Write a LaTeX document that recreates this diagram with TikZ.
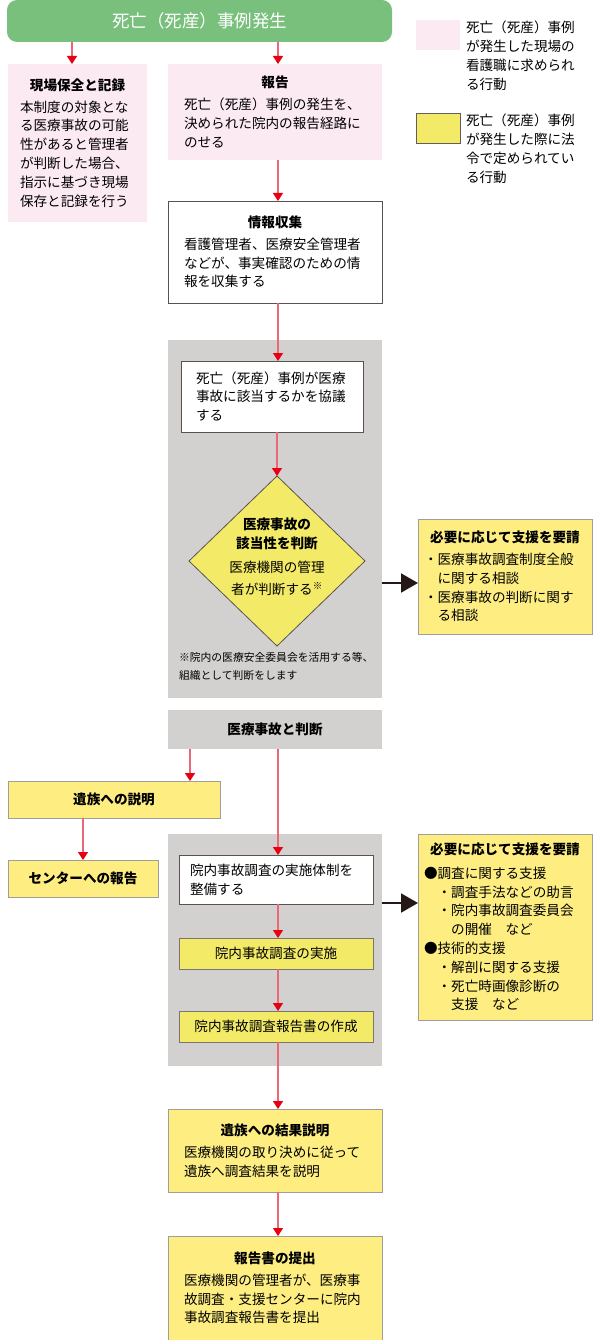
\documentclass[tikz,border=0pt]{standalone}
\usepackage{fontspec}
\setmainfont{Noto Sans CJK JP}
\usetikzlibrary{shapes.geometric,arrows.meta}
\definecolor{kgreen}{RGB}{121,192,125}
\definecolor{kpink}{RGB}{252,234,243}
\definecolor{kyellow}{RGB}{254,238,130}
\definecolor{kyellowd}{RGB}{243,235,104}
\definecolor{kgray}{RGB}{211,209,207}
\definecolor{kred}{RGB}{230,0,18}
\definecolor{kline}{RGB}{233,105,118}
\definecolor{kdark}{RGB}{35,24,21}
\definecolor{kframe}{RGB}{160,158,150}
\newcommand{\boxhead}[2][3pt]{\makebox[\linewidth]{\bfseries #2}\\[#1]}

\begin{document}
\begin{tikzpicture}[x=1pt,y=-1pt,
    font=\fontsize{13.6}{18.8}\selectfont,
    every node/.style={inner sep=0pt, outer sep=0pt},
    box/.style={rectangle, anchor=north west, align=left},
    pinkbox/.style={box, fill=kpink},
    whitebox/.style={box, fill=white, draw=kdark!75, line width=0.8pt},
    graybox/.style={box, fill=kgray},
    yellowbox/.style={box, fill=kyellow, draw=kframe, line width=0.8pt},
    yellowdbox/.style={box, fill=kyellowd, draw=kdark!60, line width=0.8pt},
    rarrow/.style={draw=kline, line width=1.3pt, -{Triangle[length=8pt,width=10pt,color=kred]}},
    darrow/.style={draw=kdark, line width=2pt, -{Triangle[length=17pt,width=19pt]}}]
  \useasboundingbox (0,0) rectangle (600,1340);

  % start
  \node[box, fill=kgreen, rounded corners=10pt, minimum width=385pt, minimum height=42pt,
        align=center, text=white, font=\fontsize{17.5}{20}\selectfont] (hassei) at (7,0) {死亡（死産）事例発生};

  % legend
  \node[box, fill=kpink, minimum width=44pt, minimum height=30pt] (leg1) at (416,20) {};
  \node[box, anchor=north west] (leg1txt) at (466,21) {死亡（死産）事例\\が発生した現場の\\看護職に求められ\\る行動};
  \node[box, fill=kyellowd, draw=kdark!70, line width=0.8pt, minimum width=44pt, minimum height=30pt] (leg2) at (416,113) {};
  \node[box, anchor=north west] (leg2txt) at (466,114) {死亡（死産）事例\\が発生した際に法\\令で定められてい\\る行動};

  % first actions
  \node[pinkbox, minimum width=139pt, minimum height=158pt, text width=115pt] (genba) at (8,64)
    {\boxhead{現場保全と記録}本制度の対象とな\\る医療事故の可能\\性があると管理者\\が判断した場合、\\指示に基づき現場\\保存と記録を行う};
  \node[pinkbox, minimum width=214pt, minimum height=96pt, text width=182pt] (houkoku) at (168,64)
    {\boxhead{報告}死亡（死産）事例の発生を、\\決められた院内の報告経路に\\のせる};
  \node[whitebox, minimum width=214pt, minimum height=102pt, text width=182pt] (joho) at (168,201)
    {\boxhead{情報収集}看護管理者、医療安全管理者\\などが、事実確認のための情\\報を収集する};

  % judgement
  \node[graybox, minimum width=214pt, minimum height=358pt] (panel1) at (168,340) {};
  \node[whitebox, minimum width=182pt, minimum height=71pt, text width=152pt] (kyogi) at (181,361)
    {死亡（死産）事例が医療\\事故に該当するかを協議\\する};
  \node[diamond, fill=kyellowd, draw=kdark!75, line width=0.8pt, minimum width=176pt, minimum height=170pt] (handan) at (277,561) {};
  \node[align=center] (handantxt) at (277,557)
    {\bfseries 医療事故の\\\bfseries 該当性を判断\\[5pt]医療機関の管理\\[4pt]者が判断する\textsuperscript{※}};
  \node[box, anchor=north west, font=\fontsize{10.8}{18}\selectfont] (chu) at (179,652)
    {※院内の医療安全委員会を活用する等、\\組織として判断をします};
  \node[yellowbox, minimum width=174pt, minimum height=115pt, text width=162pt] (shien1) at (418,519)
    {\boxhead{必要に応じて支援を要請}・医療事故調査制度全般\\\hspace{1em}に関する相談\\・医療事故の判断に関す\\\hspace{1em}る相談};

  \node[graybox, minimum width=214pt, minimum height=39pt, align=center, font=\fontsize{13.6}{18.8}\selectfont\bfseries] (jiko) at (168,710) {医療事故と判断};

  % left column
  \node[yellowbox, minimum width=212pt, minimum height=37pt, font=\fontsize{13.6}{18.8}\selectfont\bfseries] (izoku) at (8,781) {遺族への説明};
  \node[yellowbox, minimum width=150pt, minimum height=37pt, font=\fontsize{13.6}{18.8}\selectfont\bfseries] (center) at (8,860) {センターへの報告};

  % investigation
  \node[graybox, minimum width=214pt, minimum height=232pt] (panel2) at (168,834) {};
  \node[whitebox, minimum width=194pt, minimum height=49pt, text width=172pt] (taisei) at (179,855)
    {院内事故調査の実施体制を\\整備する};
  \node[yellowdbox, minimum width=194pt, minimum height=31pt] (jisshi) at (179,938) {院内事故調査の実施};
  \node[yellowdbox, minimum width=194pt, minimum height=31pt] (sakusei) at (179,1011) {院内事故調査報告書の作成};
  \node[yellowbox, minimum width=174pt, minimum height=186pt, text width=162pt] (shien2) at (418,834)
    {\boxhead[5pt]{必要に応じて支援を要請}●調査に関する支援\\\hspace{1em}・調査手法などの助言\\\hspace{1em}・院内事故調査委員会\\\hspace{2em}の開催　など\\●技術的支援\\\hspace{1em}・解剖に関する支援\\\hspace{1em}・死亡時画像診断の\\\hspace{2em}支援　など};

  % results
  \node[yellowbox, minimum width=214pt, minimum height=83pt, text width=182pt] (kekka) at (168,1109)
    {\boxhead{遺族への結果説明}医療機関の取り決めに従って\\遺族へ調査結果を説明};
  \node[yellowbox, minimum width=214pt, minimum height=104pt, text width=182pt] (teishutsu) at (168,1236)
    {\boxhead{報告書の提出}医療機関の管理者が、医療事\\故調査・支援センターに院内\\事故調査報告書を提出};

  % connectors
  \draw[rarrow] (hassei.south -| 72,0) -- (genba.north -| 72,0);
  \draw[rarrow] (hassei.south -| 278,0) -- (houkoku.north -| 278,0);
  \draw[rarrow] (houkoku.south -| 278,0) -- (joho.north -| 278,0);
  \draw[rarrow] (joho.south -| 278,0) -- (kyogi.north -| 278,0);
  \draw[rarrow] (kyogi.south -| handan.north) -- (handan.north);
  \draw[darrow] (panel1.east |- 0,583) -- (shien1.west |- 0,583);
  \draw[rarrow] (jiko.south -| 190,0) -- (izoku.north -| 190,0);
  \draw[rarrow] (jiko.south -| 278,0) -- (taisei.north -| 278,0);
  \draw[rarrow] (izoku.south -| 83,0) -- (center.north -| 83,0);
  \draw[rarrow] (taisei.south -| 278,0) -- (jisshi.north -| 278,0);
  \draw[rarrow] (jisshi.south -| 278,0) -- (sakusei.north -| 278,0);
  \draw[rarrow] (sakusei.south -| 278,0) -- (kekka.north -| 278,0);
  \draw[rarrow] (kekka.south -| 278,0) -- (teishutsu.north -| 278,0);
  \draw[darrow] (panel2.east |- 0,903) -- (shien2.west |- 0,903);
\end{tikzpicture}
\end{document}
